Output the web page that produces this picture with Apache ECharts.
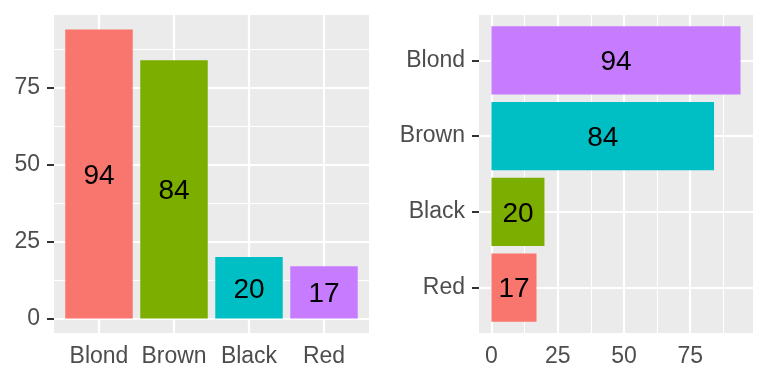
<!DOCTYPE html>
<html><head><meta charset="utf-8">
<script src="https://cdn.jsdelivr.net/npm/echarts@6/dist/echarts.min.js"></script>
<style>html,body{margin:0;padding:0;background:#fff}#c{width:768px;height:384px}</style>
</head><body><div id="c"></div>
<script>
const categories = ['Blond', 'Brown', 'Black', 'Red'];
const counts = [94, 84, 20, 17];
const valueTicks = [0, 25, 50, 75];
const minorTicks = [12.5, 37.5, 62.5, 87.5];
const leftColors = ['#F8766D', '#7CAE00', '#00BFC4', '#C77CFF'];
const rightColors = ['#C77CFF', '#00BFC4', '#7CAE00', '#F8766D'];

const catPos = categories.map((c, i) => i + 1);
const vMin = -4.7, vMax = 98.7, cMin = 0.4, cMax = 4.6;
const FONT = 'Liberation Sans, Arial, sans-serif';
const tickStyle = {show: true, length: 7, lineStyle: {color: '#333333', width: 2}};
const noTick = {show: false};
const labelStyle = {color: '#4D4D4D', fontSize: 23, fontFamily: FONT};
const majorLine = {show: true, lineStyle: {color: '#FFFFFF', width: 2.2}};
const minorLine = {show: true, lineStyle: {color: '#FFFFFF', width: 1.1}};
const catFmt = v => categories[Math.round(v) - 1] || '';

const option = {
  animation: false,
  backgroundColor: '#FFFFFF',
  grid: [
    {left: 54, right: 399, top: 15, bottom: 51, show: true, backgroundColor: '#EBEBEB', borderWidth: 0},
    {left: 479, right: 15, top: 15, bottom: 51, show: true, backgroundColor: '#EBEBEB', borderWidth: 0}
  ],
  xAxis: [
    { // left panel categories
      gridIndex: 0, type: 'value', min: cMin, max: cMax,
      axisLine: {show: false, onZero: false},
      axisTick: Object.assign({}, noTick, {customValues: catPos}),
      axisLabel: Object.assign({customValues: catPos, margin: 12, formatter: catFmt}, labelStyle),
      splitLine: majorLine
    },
    { // right panel values
      gridIndex: 1, type: 'value', min: vMin, max: vMax,
      axisLine: {show: false, onZero: false},
      axisTick: Object.assign({}, noTick, {customValues: valueTicks}),
      axisLabel: Object.assign({customValues: valueTicks, margin: 12}, labelStyle),
      splitLine: majorLine
    },
    { // right panel minor
      gridIndex: 1, type: 'value', min: vMin, max: vMax, position: 'top',
      axisLine: {show: false, onZero: false},
      axisTick: {show: false, customValues: minorTicks},
      axisLabel: {show: false, customValues: minorTicks},
      splitLine: minorLine
    }
  ],
  yAxis: [
    { // left panel values
      gridIndex: 0, type: 'value', min: vMin, max: vMax,
      axisLine: {show: false, onZero: false},
      axisTick: Object.assign({customValues: valueTicks}, tickStyle),
      axisLabel: Object.assign({customValues: valueTicks, margin: 14, padding: [3, 0, 0, 0]}, labelStyle),
      splitLine: majorLine
    },
    { // left panel minor
      gridIndex: 0, type: 'value', min: vMin, max: vMax, position: 'right',
      axisLine: {show: false, onZero: false},
      axisTick: {show: false, customValues: minorTicks},
      axisLabel: {show: false, customValues: minorTicks},
      splitLine: minorLine
    },
    { // right panel categories
      gridIndex: 1, type: 'value', min: cMin, max: cMax, inverse: true,
      axisLine: {show: false, onZero: false},
      axisTick: Object.assign({customValues: catPos}, tickStyle),
      axisLabel: Object.assign({customValues: catPos, margin: 14, padding: [3, 0, 0, 0], formatter: catFmt}, labelStyle),
      splitLine: majorLine
    }
  ],
  series: [
    {
      type: 'custom', xAxisIndex: 0, yAxisIndex: 0,
      data: categories.map((c, i) => ({value: [catPos[i], counts[i]], itemStyle: {color: leftColors[i]}})),
      renderItem: function (params, api) {
        const c = api.value(0), v = api.value(1);
        const a = api.coord([c - 0.45, v]), b = api.coord([c + 0.45, 0]);
        return {
          type: 'rect',
          shape: {x: Math.min(a[0], b[0]), y: Math.min(a[1], b[1]), width: Math.abs(b[0] - a[0]), height: Math.abs(b[1] - a[1])},
          style: {fill: api.visual('color')},
          textContent: {style: {text: String(v), fontSize: 28, fill: '#000000', fontFamily: FONT}},
          textConfig: {position: 'inside', offset: [0, 2]}
        };
      }
    },
    {
      type: 'custom', xAxisIndex: 1, yAxisIndex: 2,
      data: categories.map((c, i) => ({value: [counts[i], catPos[i]], itemStyle: {color: rightColors[i]}})),
      renderItem: function (params, api) {
        const v = api.value(0), c = api.value(1);
        const a = api.coord([0, c - 0.45]), b = api.coord([v, c + 0.45]);
        return {
          type: 'rect',
          shape: {x: Math.min(a[0], b[0]), y: Math.min(a[1], b[1]), width: Math.abs(b[0] - a[0]), height: Math.abs(b[1] - a[1])},
          style: {fill: api.visual('color')},
          textContent: {style: {text: String(v), fontSize: 28, fill: '#000000', fontFamily: FONT}},
          textConfig: {position: 'inside', offset: [0, 2]}
        };
      }
    }
  ]
};
const chart = echarts.init(document.getElementById('c'), null, {renderer: 'canvas'});
chart.setOption(option);
</script></body></html>
